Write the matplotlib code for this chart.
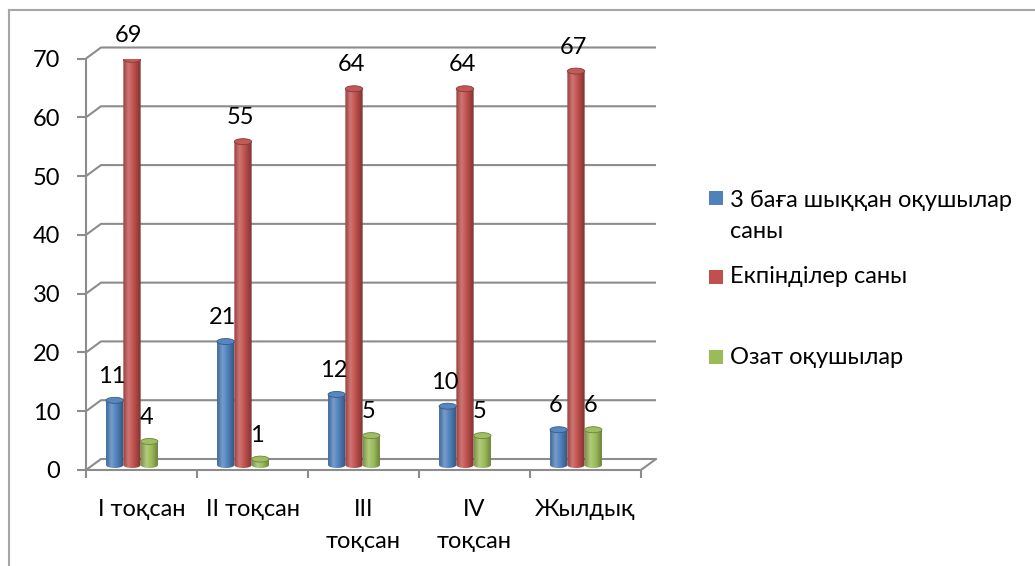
import matplotlib
matplotlib.use('Agg')
import matplotlib.pyplot as plt
import numpy as np
from matplotlib.patches import Ellipse, Polygon, Rectangle
from matplotlib.colors import LinearSegmentedColormap, to_rgb
from matplotlib.lines import Line2D

plt.rcParams['font.family'] = ['Lato', 'DejaVu Sans']

# ---- data ----
categories = ['I тоқсан', 'II тоқсан', 'III\nтоқсан', 'IV\nтоқсан', 'Жылдық']
series_names = ['3 баға шыққан оқушылар\nсаны', 'Екпінділер саны', 'Озат оқушылар']
grade3 = [11, 21, 12, 10, 6]
good = [69, 55, 64, 64, 67]
excellent = [4, 1, 5, 5, 6]
yticks = [0, 10, 20, 30, 40, 50, 60, 70]
series = [grade3, good, excellent]
colors = ['#4F81BD', '#C0504D', '#9BBB59']

FS = 17
GRID = '#8c8c8c'

W, H = 1035, 566
fig = plt.figure(figsize=(W / 100, H / 100), dpi=100)
L, R, B, T = 86, 641, 470, 58.5
ax = fig.add_axes([L / W, 1 - B / H, (R - L) / W, (B - T) / H])
ax.set_xlim(-0.5, 4.5)
ax.set_ylim(0, 70)
px_x = (R - L) / 5.0
px_y = (B - T) / 70.0
DX = 15 / px_x
DY = 11 / px_y

# back wall gridlines with depth connectors
for v in yticks:
    ax.plot([-0.5, -0.5 + DX, 4.5 + DX], [v, v + DY, v + DY], color=GRID,
            lw=1.5, clip_on=False, zorder=1, solid_capstyle='butt')
# floor right edge
ax.plot([4.5, 4.5 + DX], [0, DY], color=GRID, lw=1.5, clip_on=False, zorder=1)

for s in ['top', 'right']:
    ax.spines[s].set_visible(False)
for s in ['left', 'bottom']:
    ax.spines[s].set_color(GRID)
    ax.spines[s].set_linewidth(1.5)
ax.set_facecolor('none')

ax.set_yticks(yticks)
ax.set_yticklabels([str(v) for v in yticks])
ax.tick_params(axis='y', length=9 * 0.72, width=1.5, color=GRID, pad=12,
               labelsize=FS)
ax.set_xticks(range(len(categories)))
ax.set_xticklabels(categories, linespacing=1.62)
ax.set_xticks(np.arange(-0.5, 5, 1), minor=True)
ax.tick_params(axis='x', which='major', length=0, pad=21, labelsize=FS)
ax.tick_params(axis='x', which='minor', length=8 * 0.72, width=1.5, color=GRID)


def shade(c, f):
    c = np.array(to_rgb(c))
    if f >= 0:
        return tuple(c + (1 - c) * f)
    return tuple(c * (1 + f))


base = 5 / px_y
bw = 17.3 / px_x
eh = 6 / px_y
shift = -9.5 / px_x

for k, (vals, col) in enumerate(zip(series, colors)):
    cmap = LinearSegmentedColormap.from_list(
        'c%d' % k,
        [(0.0, shade(col, -0.2)), (0.3, shade(col, 0.22)),
         (0.6, shade(col, 0.0)), (1.0, shade(col, -0.35))])
    grad = np.linspace(0, 1, 64).reshape(1, -1)
    for i, v in enumerate(vals):
        x0 = i + shift + (k - 1) * bw - bw / 2
        y0 = base
        y1 = base + v
        t = np.linspace(np.pi, 2 * np.pi, 30)
        bx = x0 + bw / 2 + (bw / 2) * np.cos(t)
        by = y0 + (eh / 2) * np.sin(t)
        verts = [(x0, y1)] + list(zip(bx, by)) + [(x0 + bw, y1)]
        clip = Polygon(verts, closed=True, transform=ax.transData,
                       facecolor='none', edgecolor='none')
        ax.add_patch(clip)
        im = ax.imshow(grad, cmap=cmap, aspect='auto',
                       extent=[x0, x0 + bw, y0 - eh, y1], zorder=3,
                       interpolation='bilinear')
        im.set_clip_path(clip)
        ax.add_patch(Ellipse((x0 + bw / 2, y1), bw, eh,
                             facecolor=shade(col, 0.05),
                             edgecolor=shade(col, -0.3), lw=0.6, zorder=4))
        ax.annotate(str(v), (x0 + bw / 2, y1), xytext=(-3, 24),
                    textcoords='offset pixels', ha='center', va='center',
                    fontsize=FS, zorder=5)

ax.set_xlim(-0.5, 4.5)
ax.set_ylim(0, 70)

# legend (manual, Excel style)
sq_y = [198, 277, 357]
txt_y = [216, 277, 357]
for name, col, yy, ty in zip(series_names, colors, sq_y, txt_y):
    fig.add_artist(Rectangle((709 / W, 1 - (yy + 7) / H), 14 / W, 14 / H,
                             transform=fig.transFigure, facecolor=col,
                             edgecolor='none'))
    fig.text(730 / W, 1 - ty / H, name, fontsize=FS, va='center',
             ha='left', linespacing=1.62)

# chart area border
fig.add_artist(Line2D([9 / W, 9 / W], [0, 1 - 10 / H], transform=fig.transFigure,
                      color='#a6a6a6', lw=1.5))
fig.add_artist(Line2D([9 / W, 1], [1 - 10 / H, 1 - 10 / H],
                      transform=fig.transFigure, color='#a6a6a6', lw=1.5))

fig.savefig('out.png', dpi=100)
